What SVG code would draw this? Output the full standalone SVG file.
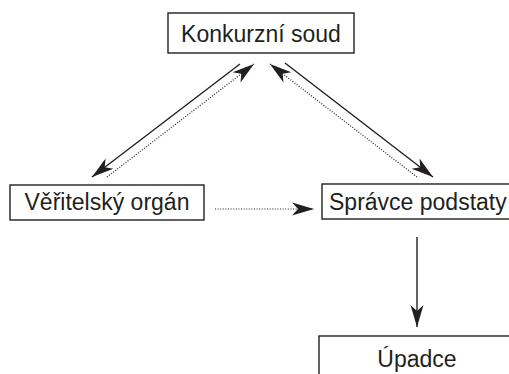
<svg xmlns="http://www.w3.org/2000/svg" width="509" height="374" viewBox="0 0 509 374">
<style>
.box{fill:#fff;stroke:#231f20;stroke-width:1.4}
.lbl{font-family:"Liberation Sans",Arial,sans-serif;font-size:23px;fill:#231f20}
.solid{stroke:#231f20;stroke-width:1.4;fill:none}
.dot{stroke:#231f20;stroke-width:1.2;fill:none;stroke-dasharray:1 1.6}
</style>
<defs>
<marker id="ah" markerUnits="userSpaceOnUse" markerWidth="24" markerHeight="14" refX="22" refY="6.5" orient="auto" overflow="visible">
<path d="M0,0 L22,6.5 L0,13 L6,6.5 Z" fill="#231f20"/>
</marker>
</defs>
<rect width="509" height="374" fill="#fff"/>
<g id="connectors">
<line class="solid" x1="240" y1="64" x2="92" y2="177" marker-end="url(#ah)"/>
<line class="dot" x1="107" y1="177" x2="254" y2="64" marker-end="url(#ah)"/>
<line class="solid" x1="285" y1="63" x2="433" y2="177" marker-end="url(#ah)"/>
<line class="dot" x1="417" y1="177" x2="270" y2="64" marker-end="url(#ah)"/>
<line class="dot" x1="215" y1="209" x2="314" y2="209" marker-end="url(#ah)"/>
<line class="solid" x1="417" y1="237" x2="417" y2="327" marker-end="url(#ah)"/>
</g>
<g id="konkurzni-soud">
<rect class="box" x="168" y="13" width="186" height="40"/>
<text class="lbl" x="261" y="42" text-anchor="middle">Konkurzní soud</text>
</g>
<g id="veritelsky-organ">
<rect class="box" x="10" y="185" width="194" height="35"/>
<text class="lbl" x="107" y="210" text-anchor="middle">Věřitelský orgán</text>
</g>
<g id="spravce-podstaty">
<rect class="box" x="322" y="184" width="200" height="35"/>
<text class="lbl" x="329" y="210">Správce podstaty</text>
</g>
<g id="upadce">
<rect class="box" x="319" y="336" width="200" height="60"/>
<text class="lbl" x="417" y="367" text-anchor="middle">Úpadce</text>
</g>
</svg>
